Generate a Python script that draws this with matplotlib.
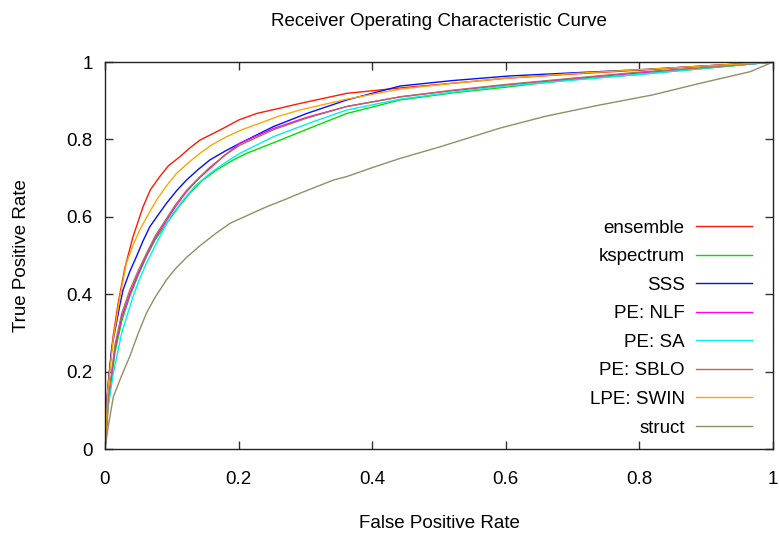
import matplotlib
matplotlib.use('Agg')
import matplotlib.pyplot as plt

plt.rcParams['font.family'] = ['Liberation Sans', 'DejaVu Sans']

# ROC curves (fpr, tpr)
ensemble_x = [0, 0.004, 0.012, 0.02, 0.030, 0.042, 0.057, 0.068, 0.082, 0.095, 0.112, 0.127, 0.142, 0.172, 0.2, 0.227, 0.26, 0.292, 0.362, 0.442, 0.52, 0.6, 0.7, 0.8, 0.9, 1.0]
ensemble_y = [0, 0.16, 0.29, 0.38, 0.470, 0.549, 0.626, 0.670, 0.704, 0.732, 0.755, 0.778, 0.798, 0.824, 0.850, 0.867, 0.880, 0.893, 0.919, 0.933, 0.945, 0.958, 0.969, 0.979, 0.99, 1.0]

kspectrum_x = [0, 0.005, 0.015, 0.025, 0.037, 0.05, 0.062, 0.075, 0.092, 0.11, 0.127, 0.145, 0.167, 0.19, 0.212, 0.262, 0.312, 0.362, 0.442, 0.52, 0.6, 0.691, 0.8, 0.9, 1.0]
kspectrum_y = [0, 0.12, 0.25, 0.33, 0.394, 0.450, 0.497, 0.540, 0.583, 0.625, 0.661, 0.693, 0.721, 0.745, 0.764, 0.798, 0.833, 0.867, 0.902, 0.920, 0.935, 0.953, 0.968, 0.984, 1.0]

sss_x = [0, 0.003, 0.010, 0.022, 0.027, 0.037, 0.047, 0.057, 0.067, 0.08, 0.092, 0.107, 0.122, 0.14, 0.157, 0.18, 0.202, 0.252, 0.302, 0.362, 0.442, 0.52, 0.606, 0.7, 0.8, 0.9, 1.0]
sss_y = [0, 0.13, 0.26, 0.37, 0.411, 0.458, 0.497, 0.538, 0.574, 0.606, 0.635, 0.667, 0.695, 0.723, 0.747, 0.770, 0.790, 0.833, 0.867, 0.902, 0.938, 0.952, 0.964, 0.972, 0.980, 0.99, 1.0]

nlf_x = [0, 0.005, 0.015, 0.025, 0.037, 0.05, 0.062, 0.075, 0.090, 0.105, 0.122, 0.14, 0.157, 0.18, 0.202, 0.252, 0.302, 0.362, 0.442, 0.52, 0.6, 0.7, 0.8, 0.9, 1.0]
nlf_y = [0, 0.12, 0.26, 0.34, 0.400, 0.455, 0.500, 0.545, 0.585, 0.625, 0.665, 0.698, 0.725, 0.760, 0.790, 0.828, 0.857, 0.885, 0.910, 0.926, 0.940, 0.957, 0.972, 0.985, 1.0]

sa_x = [0, 0.0025, 0.0125, 0.025, 0.042, 0.052, 0.062, 0.075, 0.087, 0.1, 0.117, 0.135, 0.157, 0.18, 0.202, 0.252, 0.312, 0.362, 0.442, 0.52, 0.6, 0.7, 0.8, 0.9, 1.0]
sa_y = [0, 0.083, 0.196, 0.30, 0.394, 0.440, 0.480, 0.525, 0.566, 0.605, 0.643, 0.680, 0.712, 0.740, 0.764, 0.807, 0.846, 0.876, 0.904, 0.922, 0.938, 0.953, 0.968, 0.984, 1.0]

sblo_x = [0, 0.005, 0.015, 0.025, 0.037, 0.05, 0.062, 0.075, 0.090, 0.105, 0.122, 0.14, 0.157, 0.18, 0.202, 0.252, 0.302, 0.362, 0.442, 0.52, 0.6, 0.7, 0.8, 0.9, 1.0]
sblo_y = [0, 0.13, 0.27, 0.35, 0.410, 0.462, 0.505, 0.550, 0.590, 0.630, 0.668, 0.700, 0.728, 0.760, 0.785, 0.825, 0.855, 0.885, 0.910, 0.927, 0.942, 0.958, 0.974, 0.986, 1.0]

swin_x = [0, 0.004, 0.012, 0.022, 0.032, 0.042, 0.052, 0.065, 0.077, 0.092, 0.107, 0.125, 0.142, 0.16, 0.182, 0.205, 0.232, 0.26, 0.292, 0.362, 0.442, 0.52, 0.6, 0.7, 0.8, 0.9, 1.0]
swin_y = [0, 0.15, 0.28, 0.39, 0.480, 0.527, 0.566, 0.607, 0.643, 0.680, 0.712, 0.740, 0.764, 0.786, 0.807, 0.825, 0.842, 0.860, 0.876, 0.904, 0.930, 0.945, 0.958, 0.970, 0.980, 0.99, 1.0]

struct_x = [0, 0.005, 0.0125, 0.025, 0.037, 0.05, 0.062, 0.075, 0.092, 0.105, 0.122, 0.142, 0.165, 0.187, 0.215, 0.242, 0.27, 0.292, 0.32, 0.342, 0.362, 0.4, 0.442, 0.5, 0.591, 0.66, 0.741, 0.82, 0.891, 0.966, 1.0]
struct_y = [0, 0.06, 0.135, 0.19, 0.239, 0.300, 0.351, 0.392, 0.437, 0.465, 0.495, 0.525, 0.556, 0.583, 0.605, 0.626, 0.645, 0.661, 0.680, 0.695, 0.704, 0.727, 0.751, 0.780, 0.829, 0.860, 0.889, 0.915, 0.945, 0.975, 1.0]

names = ['ensemble', 'kspectrum', 'SSS', 'PE: NLF', 'PE: SA', 'PE: SBLO', 'LPE: SWIN', 'struct']
xs = [ensemble_x, kspectrum_x, sss_x, nlf_x, sa_x, sblo_x, swin_x, struct_x]
ys = [ensemble_y, kspectrum_y, sss_y, nlf_y, sa_y, sblo_y, swin_y, struct_y]
colors = ['#ff1a00', '#00e000', '#0010ff', '#ff00ff', '#00f0f0', '#b07050', '#ffa500', '#8f8f68']

fs = 13.5

fig = plt.figure(figsize=(7.79, 5.34), dpi=100)
ax = fig.add_axes([105/779, 85/534, 668/779, 387/534])

for x, y, c, n in zip(xs, ys, colors, names):
    ax.plot(x, y, color=c, lw=1.0, label=n)

ax.set_xlim(0, 1)
ax.set_ylim(0, 1)
ticks = [0, 0.2, 0.4, 0.6, 0.8, 1]
tick_labels = ['0', '0.2', '0.4', '0.6', '0.8', '1']
ax.set_xticks(ticks)
ax.set_xticklabels(tick_labels)
ax.set_yticks(ticks)
ax.set_yticklabels(tick_labels)
ax.tick_params(direction='in', length=6, width=1, top=True, right=True,
               labelsize=fs, color='#333333')
ax.tick_params(axis='x', pad=16)
ax.tick_params(axis='y', pad=9)
for s in ax.spines.values():
    s.set_color('#222222')
    s.set_linewidth(1.0)

ax.set_title('Receiver Operating Characteristic Curve', fontsize=fs, pad=26)
ax.set_xlabel('False Positive Rate', fontsize=fs, labelpad=19)
ax.set_ylabel('True Positive Rate', fontsize=fs, labelpad=26)

leg = ax.legend(loc='lower right', bbox_to_anchor=(0.9686, 0.032), frameon=False,
                markerfirst=False, fontsize=fs, handlelength=3.0,
                handletextpad=0.6, labelspacing=0.61, borderpad=0,
                borderaxespad=0)

fig.savefig('out.png', dpi=100)
